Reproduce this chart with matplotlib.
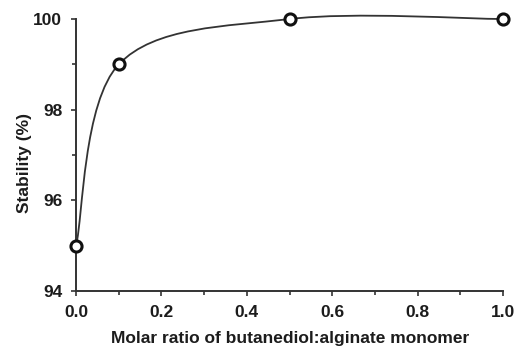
import matplotlib.pyplot as plt
from matplotlib.path import Path
from matplotlib.patches import PathPatch
from matplotlib.ticker import MultipleLocator

plt.rcParams['font.family'] = ['Liberation Sans', 'DejaVu Sans']
plt.rcParams['font.weight'] = 'bold'

ratio = [0.0, 0.1, 0.5, 1.0]
stability = [95, 99, 100, 100]

ink = '#1c1c1c'


def smooth_path(xs, ys):
    # Catmull-Rom style bezier segments through the points (like a spreadsheet "smoothed line")
    pts = list(zip(xs, ys))
    verts = [pts[0]]
    codes = [Path.MOVETO]
    n = len(pts)
    for i in range(n - 1):
        p0 = pts[max(i - 1, 0)]
        p1 = pts[i]
        p2 = pts[i + 1]
        p3 = pts[min(i + 2, n - 1)]
        c1 = (p1[0] + (p2[0] - p0[0]) / 6, p1[1] + (p2[1] - p0[1]) / 6)
        c2 = (p2[0] - (p3[0] - p1[0]) / 6, p2[1] - (p3[1] - p1[1]) / 6)
        verts += [c1, c2, p2]
        codes += [Path.CURVE4] * 3
    return Path(verts, codes)


fig = plt.figure(figsize=(5.14, 3.46), dpi=100)
ax = fig.add_axes([0.148, 0.159, 0.831, 0.786])

ax.add_patch(PathPatch(smooth_path(ratio, stability), facecolor='none',
                       edgecolor='#333333', linewidth=1.3, zorder=2, clip_on=False))
ax.plot(ratio, stability, linestyle='none', marker='o', markersize=8,
        markerfacecolor='white', markeredgecolor='#111111', markeredgewidth=2.2,
        clip_on=False, zorder=3)

ax.set_xlim(0, 1.0)
ax.set_ylim(94, 100)
ax.xaxis.set_major_locator(MultipleLocator(0.2))
ax.xaxis.set_minor_locator(MultipleLocator(0.1))
ax.yaxis.set_major_locator(MultipleLocator(2))
ax.yaxis.set_minor_locator(MultipleLocator(1))
ax.set_xticklabels([f'{v:.1f}' for v in ax.get_xticks()])

for side in ['top', 'right']:
    ax.spines[side].set_visible(False)
for side in ['left', 'bottom']:
    ax.spines[side].set_linewidth(1.4)
    ax.spines[side].set_color('#333333')

ax.tick_params(which='major', direction='out', length=3.5, width=1.2,
               color='#333333', labelsize=12.5, labelcolor=ink)
ax.tick_params(which='minor', direction='out', length=3, width=1.2, color='#333333')
ax.tick_params(axis='x', which='major', pad=6.5)
ax.tick_params(axis='y', which='major', pad=6.5)

ax.set_xlabel('Molar ratio of butanediol:alginate monomer', fontsize=12.5,
              fontweight='bold', color=ink, labelpad=8)
ax.set_ylabel('Stability (%)', fontsize=12.5, fontweight='bold', color=ink)
ax.yaxis.set_label_coords(-0.103, 0.47)

fig.savefig('out.png', dpi=100)
